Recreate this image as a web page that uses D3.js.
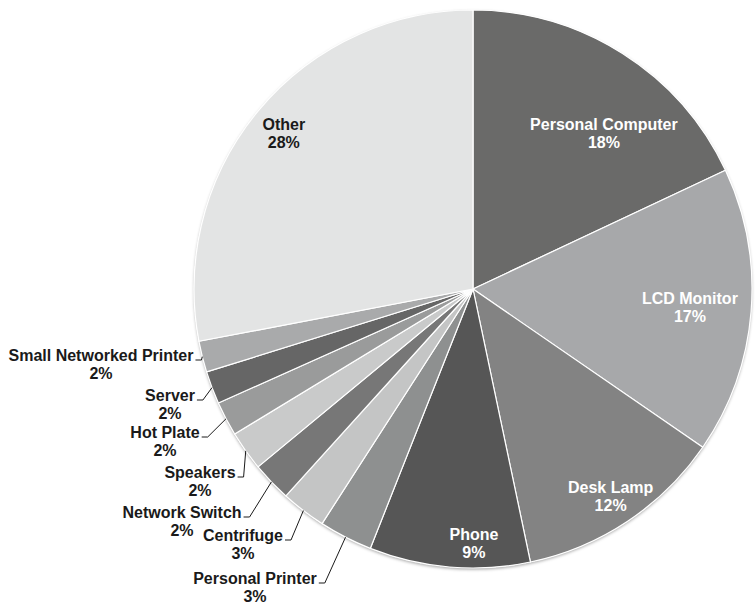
<!DOCTYPE html>
<html>
<head>
<meta charset="utf-8">
<script src="https://cdn.jsdelivr.net/npm/d3@7"></script>
<style>
  html, body { margin: 0; padding: 0; background: #ffffff; }
  svg { display: block; }
  text { font-family: "Liberation Sans", Arial, sans-serif; font-weight: bold; }
</style>
</head>
<body>
<svg id="chart" width="756" height="605"></svg>
<script>
// ---- data ----
const categories = ["Personal Computer", "LCD Monitor", "Desk Lamp", "Phone", "Personal Printer",
  "Centrifuge", "Network Switch", "Speakers", "Hot Plate", "Server", "Small Networked Printer", "Other"];
const values = [18.0, 16.6, 12.1, 9.3, 3.1, 2.6, 2.3, 2.3, 2.0, 1.9, 1.8, 28.0];
const sliceColors = ["#6a6a69", "#a7a8aa", "#838383", "#565656", "#8e9090",
  "#c4c5c5", "#777777", "#c9caca", "#9a9b9b", "#666666", "#a9aaab", "#e3e4e4"];

// ---- layout (not data) ----
const W = 756, H = 605;
const cx = 473, cy = 289, R = 279;
const insideLayout = {
  "Personal Computer": { rf: 0.73, ang: 40, color: "#ffffff" },
  "LCD Monitor": { rf: 0.78, ang: null, color: "#ffffff" },
  "Desk Lamp": { rf: 0.89, ang: null, color: "#ffffff" },
  "Phone": { rf: 0.91, ang: 179.8, color: "#ffffff" },
  "Other": { rf: 0.88, ang: null, color: "#1a1a1a" }
};
// outside labels: text block centre x, first line centre y
const outsideLayout = {
  "Small Networked Printer": [101, 355],
  "Server": [170, 395],
  "Hot Plate": [165, 432],
  "Speakers": [200, 472],
  "Network Switch": [182, 512],
  "Centrifuge": [243, 535],
  "Personal Printer": [255, 578]
};

const svg = d3.select("#chart");
const defs = svg.append("defs");
const f = defs.append("filter").attr("id", "shadow").attr("x", "-10%").attr("y", "-10%").attr("width", "120%").attr("height", "120%");
f.append("feDropShadow").attr("dx", 0).attr("dy", 1.5).attr("stdDeviation", 1.5)
  .attr("flood-color", "#000").attr("flood-opacity", 0.35);

const total = d3.sum(values);
const data = categories.map((c, i) => ({ name: c, value: values[i], color: sliceColors[i] }));

const pie = d3.pie().value(d => d.value).sort(null).startAngle(0).endAngle(2 * Math.PI);
const arcs = pie(data);
const arc = d3.arc().innerRadius(0).outerRadius(R);

const g = svg.append("g").attr("transform", `translate(${cx},${cy})`);

g.append("circle").attr("r", R).attr("fill", "#ddd").attr("filter", "url(#shadow)");

g.selectAll("path.slice").data(arcs).join("path")
  .attr("class", "slice")
  .attr("d", arc)
  .attr("fill", d => d.data.color)
  .attr("stroke", "#ffffff")
  .attr("stroke-width", 1.2)
  .attr("stroke-linejoin", "round");

const fs = 16, lh = 18, dy0 = 6;
const pct = v => Math.round(v / total * 100) + "%";

// inside labels
arcs.forEach(a => {
  const L = insideLayout[a.data.name];
  if (!L) return;
  const ang = L.ang != null ? L.ang * Math.PI / 180 : (a.startAngle + a.endAngle) / 2;
  const x = Math.sin(ang) * R * L.rf, y = -Math.cos(ang) * R * L.rf;
  const t = g.append("text").attr("text-anchor", "middle").attr("font-size", fs).attr("fill", L.color);
  t.append("tspan").attr("x", x).attr("y", y - lh / 2 + dy0).text(a.data.name);
  t.append("tspan").attr("x", x).attr("y", y + lh / 2 + dy0).text(pct(a.data.value));
});

// outside labels with leader lines
const root = svg.append("g");
arcs.forEach(a => {
  const L = outsideLayout[a.data.name];
  if (!L) return;
  const [tx, ty] = L;
  const t = root.append("text").attr("text-anchor", "middle").attr("font-size", fs).attr("fill", "#1a1a1a");
  const l1 = t.append("tspan").attr("x", tx).attr("y", ty + dy0).text(a.data.name);
  t.append("tspan").attr("x", tx).attr("y", ty + dy0 + lh).text(pct(a.data.value));
  const w1 = l1.node().getComputedTextLength();
  const ang = (a.startAngle + a.endAngle) / 2;
  const sx = cx + Math.sin(ang) * R, sy = cy - Math.cos(ang) * R;
  const ex = tx + w1 / 2 + 2, ey = ty + 5;
  const elbowX = ex + 6;
  root.append("path")
    .attr("d", `M${ex},${ey}L${elbowX},${ey}L${sx},${sy}`)
    .attr("fill", "none").attr("stroke", "#1a1a1a").attr("stroke-width", 1);
});
</script>
</body>
</html>
